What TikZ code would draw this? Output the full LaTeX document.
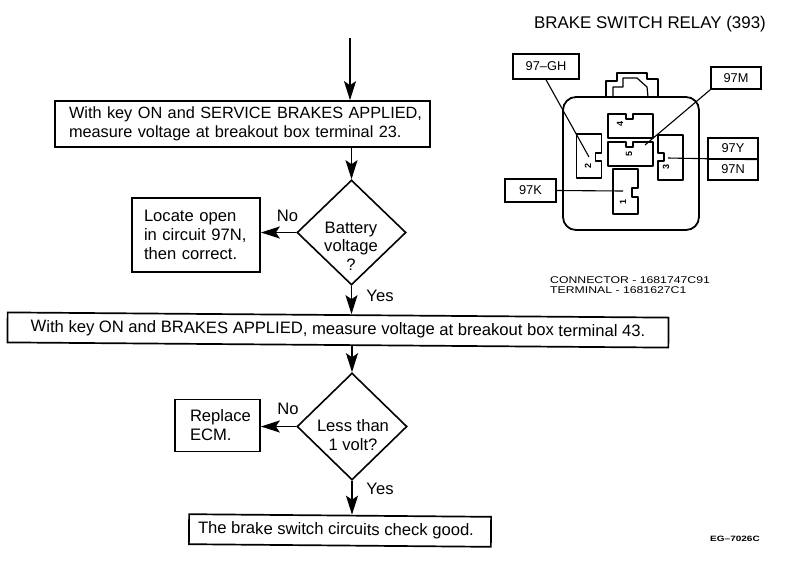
\documentclass[tikz,border=0pt]{standalone}
\usepackage{fontspec}
\usepackage{graphicx}
\setmainfont{Liberation Sans}
\usetikzlibrary{arrows.meta,shapes.geometric}
\tikzset{
  flowbox/.style={draw=black,line width=1.7pt,fill=white,align=left,inner sep=0pt,font=\fontsize{16.6}{19}\selectfont},
  decide/.style={draw=black,line width=1.6pt,diamond,inner sep=0pt},
  decidetext/.style={align=center,inner sep=0pt,font=\fontsize{16.6}{18.5}\selectfont},
  flow/.style={line width=1.6pt,-{Stealth[length=19pt,width=12pt,inset=4pt]}},
  tag/.style={font=\fontsize{16.6}{19}\selectfont,inner sep=0pt},
  wirebox/.style={draw=black,line width=1.4pt,inner sep=0pt,font=\fontsize{12.8}{14}\selectfont},
  leader/.style={line width=1.1pt},
  term/.style={draw=black,line width=1.2pt,line join=round},
  pin/.style={font=\fontsize{9}{10}\selectfont\bfseries,rotate=90,inner sep=0pt},
  fine/.style={font=\fontsize{9.8}{10}\selectfont,inner sep=0pt,align=left}
}
\begin{document}
\begin{tikzpicture}[x=1pt,y=-1pt]
\useasboundingbox (0,0) rectangle (800,566);
% flow chart
\coordinate (start) at (350,38);
\node[flowbox,font=\fontsize{16.3}{19}\selectfont,minimum width=375pt,minimum height=46pt,text width=361pt] (b1) at (242.5,124) {\hspace*{7pt}With key ON and SERVICE BRAKES APPLIED,\\\hspace*{7pt}measure voltage at breakout box terminal 23.};
\node[decide,minimum width=109pt,minimum height=105pt] (d1) at (351.5,232.5) {};
\node[decidetext] (d1t) at (351,246) {Battery\\voltage\\?};
\node[flowbox,minimum width=128pt,minimum height=74pt,text width=104pt] (b2) at (196,235) {Locate open\\in circuit 97N,\\then correct.};
\node[flowbox,minimum width=661pt,minimum height=30pt,rotate=-0.45,align=center] (b3) at (338,330) {With key ON and BRAKES APPLIED, measure voltage at breakout box terminal 43.};
\node[decide,minimum width=110pt,minimum height=107pt] (d2) at (352,426.5) {};
\node[decidetext] (d2t) at (353,435) {Less than\\1 volt?};
\node[flowbox,minimum width=85pt,minimum height=52pt,text width=72pt] (b4) at (217.5,425.5) {\hspace*{8.5pt}Replace\\\hspace*{8.5pt}ECM.};
\node[flowbox,minimum width=302pt,minimum height=30pt,rotate=-0.5,align=center] (b5) at (340,530.5) {\hspace*{-8pt}The brake switch circuits check good.};
\draw[flow] (start) -- (start |- b1.north);
\draw[flow] (b1.south -| d1.north) -- (d1.north);
\draw[flow] (d1.west) -- (b2.east |- d1.west);
\draw[flow] (d1.south) -- (d1.south |- b3.north);
\draw[flow] (b3.south -| d2.north) -- (d2.north);
\draw[flow] (d2.west) -- (b4.east |- d2.west);
\draw[flow] (d2.south) -- (d2.south |- b5.north);
\node[tag] (no1) at (287.5,216) {No};
\node[tag] (yes1) at (380,296) {Yes};
\node[tag] (no2) at (288,409) {No};
\node[tag] (yes2) at (380,489) {Yes};
% relay title
\node[inner sep=0pt,font=\fontsize{16.9}{19}\selectfont] (title) at (650,24) {BRAKE SWITCH RELAY (393)};
% relay housing
\draw[line width=1.8pt,rounded corners=13pt] (563,97) rectangle (699,230);
\draw[term] (606,97) -- (606,81) -- (617,81) -- (617,73) -- (647,73) -- (647,79) -- (658,79) -- (658,97);
\draw[term] (613,97) -- (613,87) -- (623,87) -- (623,78) -- (637,78) -- (647,87) -- (648,97);
% terminals
\draw[term] (608,114) -- (626,114) -- (626,119) -- (633,119) -- (633,114) -- (653,114) -- (653,138) -- (608,138) -- cycle;
\draw[term] (608,142) -- (626,142) -- (626,147) -- (633,147) -- (633,142) -- (653,142) -- (653,166) -- (608,166) -- cycle;
\draw[term] (576.4,134) -- (601.4,134) -- (601.4,153) -- (595.4,153) -- (595.4,161) -- (601.4,161) -- (601.4,178) -- (576.4,178) -- cycle;
\draw[term] (658,135) -- (683,135) -- (683,180) -- (658,180) -- (658,161) -- (664,161) -- (664,153) -- (658,153) -- cycle;
\draw[term] (613,169) -- (638,169) -- (638,188) -- (632,188) -- (632,197) -- (638,197) -- (638,214) -- (613,214) -- cycle;
\node[pin] (p4) at (620,124) {4};
\node[pin] (p5) at (629,154) {5};
\node[pin] (p2) at (588,166) {2};
\node[pin] (p3) at (666,167) {3};
\node[pin] (p1) at (623,202) {1};
% wire labels
\node[wirebox,minimum width=66pt,minimum height=25pt] (gh) at (546,66.5) {97--GH};
\node[wirebox,minimum width=50pt,minimum height=22pt] (m) at (736,78) {97M};
\node[wirebox,minimum width=50pt,minimum height=21pt] (y) at (733,148.5) {97Y};
\node[wirebox,minimum width=50pt,minimum height=21pt] (n) at (733,169.5) {97N};
\node[wirebox,minimum width=51pt,minimum height=23pt] (k) at (530.5,190.5) {97K};
\coordinate (egh) at (589,157);
\coordinate (em) at (645,145);
\coordinate (eyn) at (668,158);
\coordinate (ek) at (623,191);
\draw[leader] (gh.south) -- (egh);
\draw[leader] (m.south west) -- (em);
\draw[leader] (y.south east) -- (eyn);
\draw[leader] (k.east) -- (ek);
% small prints
\node[fine,anchor=west] (conn) at (550,285) {\scalebox{1.25}[1]{CONNECTOR - 1681747C91}\\\scalebox{1.25}[1]{TERMINAL - 1681627C1}};
\node[inner sep=0pt,font=\fontsize{7.7}{8}\selectfont\bfseries] (code) at (735,539) {\scalebox{1.3}[1]{EG--7026C}};
\end{tikzpicture}
\end{document}
